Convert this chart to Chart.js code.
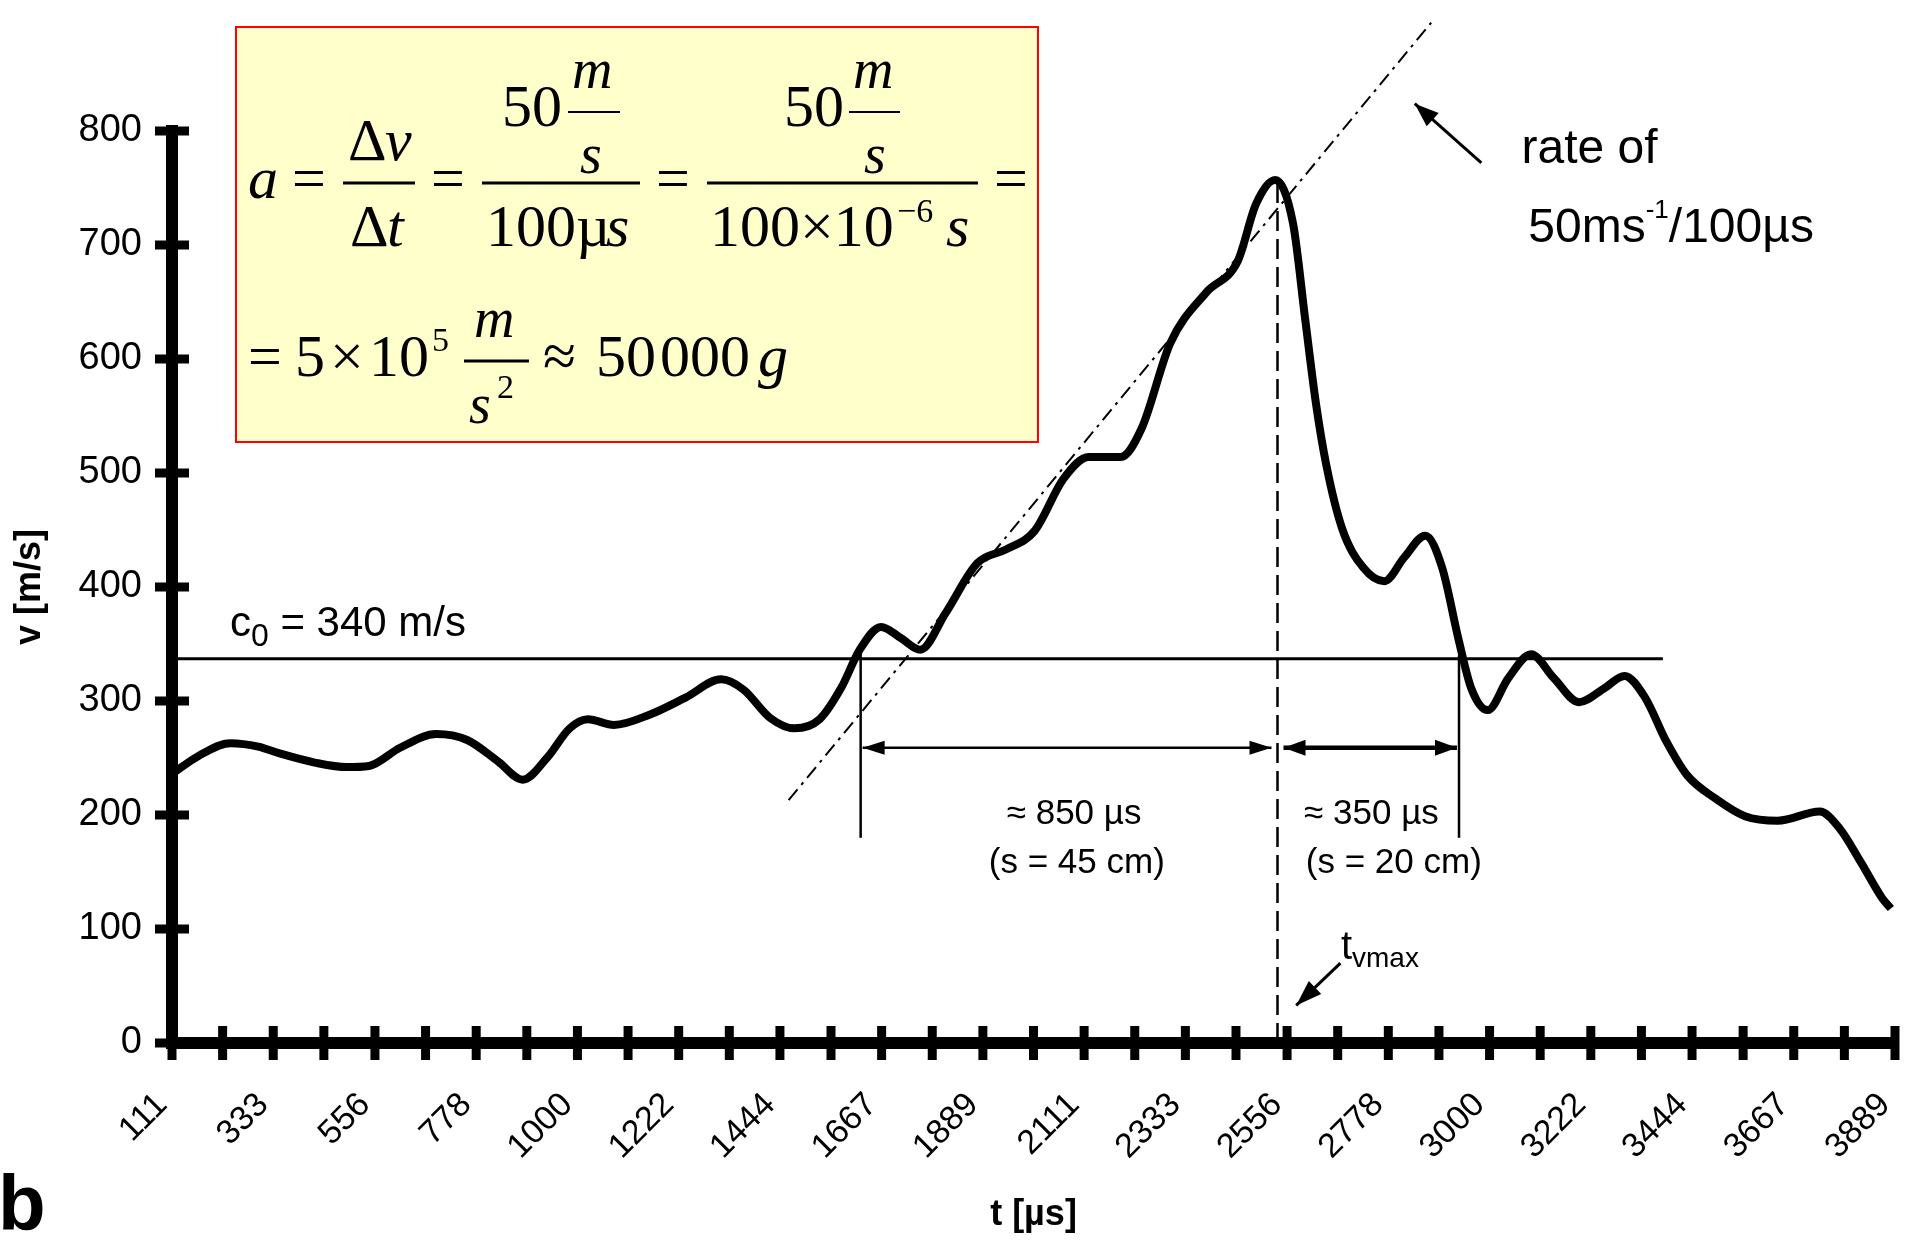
<!DOCTYPE html>
<html>
<head>
<meta charset="utf-8">
<script src="https://cdn.jsdelivr.net/npm/chart.js@4.4.1/dist/chart.umd.min.js"></script>
<style>
html, body { margin: 0; padding: 0; background: #fff; }
canvas { display: block; }
</style>
</head>
<body>
<canvas id="myChart" width="1909" height="1240"></canvas>
<script>
// time axis [µs]: a tick every 111 µs, a label on every second one
var tickValues = [111, 222, 333, 444, 556, 667, 778, 889, 1000, 1111, 1222, 1333, 1444, 1556, 1667, 1778, 1889,
    2000, 2111, 2222, 2333, 2444, 2556, 2667, 2778, 2889, 3000, 3111, 3222, 3333, 3444, 3556, 3667, 3778, 3889];
var speedTicks = [0, 100, 200, 300, 400, 500, 600, 700, 800];

// measured velocity curve
var timeUs = [111, 170, 239, 300, 347, 424, 494, 543, 611, 690, 757, 826, 880, 933, 983, 1023, 1080, 1158,
    1237, 1315, 1364, 1423, 1476, 1531, 1579, 1619, 1666, 1710, 1752, 1807, 1877, 1940, 2002, 2066, 2121,
    2191, 2237, 2300, 2378, 2448, 2488, 2530, 2569, 2596, 2619, 2642, 2677, 2723, 2769, 2813, 2859, 2896,
    2932, 2960, 2996, 3041, 3091, 3141, 3196, 3251, 3296, 3341, 3387, 3433, 3497, 3560, 3632, 3724, 3768,
    3815, 3861, 3880];
var speed = [236, 252, 263, 260, 254, 246, 242, 243, 259, 271, 266, 247, 231, 250, 276, 284, 279, 288,
    303, 319, 310, 285, 276, 284, 312, 345, 365, 355, 345, 377, 421, 433, 449, 495, 514,
    514, 539, 614, 658, 686, 736, 757, 719, 634, 562, 507, 451, 417, 405, 426, 445, 417,
    354, 311, 292, 320, 341, 320, 299, 311, 322, 303, 265, 235, 214, 199, 195, 203, 188,
    158, 127, 118];

// speed of sound line
var soundT = [111, 3380];
var soundV = [337, 337];

// tangent, rate of 50 m/s per 100 µs
var tangentT = [1463, 2872];
var tangentV = [213, 895];

// markers: start of rise, t_vmax, back to c0
var markerT = [1621, 2535, 2933];
var markerTop = [345, 757, 340];
var markerBottom = [180, 0, 180];
var arrowLevel = 259;

function pts(xs, ys) {
    return xs.map(function (x, i) { return { x: x, y: ys[i] }; });
}

function lineSet(data, width, dash) {
    return {
        data: data,
        borderColor: '#000',
        borderWidth: width,
        borderDash: dash || [],
        pointRadius: 0,
        tension: 0,
        fill: false,
        clip: false
    };
}

var SANS = '"Liberation Sans", Arial, sans-serif';
var SERIF = '"Liberation Serif", "Times New Roman", serif';

// text runs: [text, font, dy]
function drawRuns(c, runs, x, y, align) {
    var total = 0;
    runs.forEach(function (r) { c.font = r[1]; total += c.measureText(r[0]).width; });
    if (align === 'center') x -= total / 2;
    c.textAlign = 'left';
    c.textBaseline = 'alphabetic';
    runs.forEach(function (r) {
        c.font = r[1];
        c.fillText(r[0], x, y + (r[2] || 0));
        x += c.measureText(r[0]).width;
    });
}

function arrowHead(c, x, y, ang, len, half) {
    var bx = x - len * Math.cos(ang), by = y - len * Math.sin(ang);
    c.beginPath();
    c.moveTo(x, y);
    c.lineTo(bx + half * Math.sin(ang), by - half * Math.cos(ang));
    c.lineTo(bx - half * Math.sin(ang), by + half * Math.cos(ang));
    c.closePath();
    c.fill();
}

function arrow(c, x1, y1, x2, y2, width, len, half, both) {
    var ang = Math.atan2(y2 - y1, x2 - x1);
    c.lineWidth = width;
    c.beginPath();
    c.moveTo(x1, y1);
    c.lineTo(x2, y2);
    c.stroke();
    arrowHead(c, x2, y2, ang, len, half);
    if (both) arrowHead(c, x1, y1, ang + Math.PI, len, half);
}

var annotate = {
    id: 'annotate',
    afterDraw: function (chart) {
        var c = chart.ctx, xs = chart.scales.x, ys = chart.scales.y;
        var X = function (t) { return xs.getPixelForValue(t); };
        var Y = function (v) { return ys.getPixelForValue(v); };
        c.save();
        c.fillStyle = '#000';
        c.strokeStyle = '#000';

        // tick marks crossing the axes
        c.lineWidth = 9;
        tickValues.forEach(function (t) {
            c.beginPath();
            c.moveTo(X(t), Y(0) - 17);
            c.lineTo(X(t), Y(0) + 17);
            c.stroke();
        });
        speedTicks.forEach(function (v) {
            c.beginPath();
            c.moveTo(xs.left - 17, Y(v));
            c.lineTo(xs.left + 17, Y(v));
            c.stroke();
        });

        // time spans
        arrow(c, X(markerT[0]) + 2, Y(arrowLevel), X(markerT[1]) - 6, Y(arrowLevel), 2.5, 22, 7, true);
        arrow(c, X(markerT[1]) + 6, Y(arrowLevel), X(markerT[2]) - 2, Y(arrowLevel), 4.5, 22, 8, true);
        // pointers
        arrow(c, X(2673), Y(70), X(2576), Y(33), 3, 26, 9, false);
        arrow(c, X(2982), Y(772), X(2836), Y(824), 3, 24, 9, false);

        // labels
        var f35 = '35px ' + SANS;
        drawRuns(c, [['\u2248 850 \u00b5s', f35]], X(2089), Y(192), 'center');
        drawRuns(c, [['(s = 45 cm)', f35]], X(2095), Y(149), 'center');
        drawRuns(c, [['\u2248 350 \u00b5s', f35]], X(2741), Y(192), 'center');
        drawRuns(c, [['(s = 20 cm)', f35]], X(2790), Y(149), 'center');
        drawRuns(c, [['t', '40px ' + SANS], ['vmax', '28px ' + SANS, 8]], X(2674), Y(74));
        drawRuns(c, [['c', '42px ' + SANS], ['0', '32px ' + SANS, 10], [' = 340 m/s', '42px ' + SANS]], X(238), Y(357));
        drawRuns(c, [['rate of', '48px ' + SANS]], X(3070), Y(772));
        drawRuns(c, [['50ms', '48px ' + SANS], ['-1', '26px ' + SANS, -24], ['/100\u00b5s', '48px ' + SANS]], X(3085), Y(703));

        // panel letter
        c.font = 'bold 78px ' + SANS;
        c.textAlign = 'left';
        c.fillText('b', -2, 1230);

        // formula box
        c.fillStyle = '#FFFFCC';
        c.fillRect(236, 27, 802, 415);
        c.strokeStyle = '#FF0000';
        c.lineWidth = 2;
        c.strokeRect(236, 27, 802, 415);
        c.fillStyle = '#000';
        c.strokeStyle = '#000';

        var R = '60px ' + SERIF, I = 'italic 60px ' + SERIF, M = 'italic 56px ' + SERIF, S = '34px ' + SERIF;
        var items = [
            ['a', 248, 198, I], ['=', 292, 198, R],
            ['\u0394', 348, 160, R], ['v', 385, 160, I],
            ['\u0394', 350, 246, R], ['t', 387, 246, I],
            ['=', 431, 198, R],
            ['50', 502, 126, R], ['m', 572, 88, M], ['s', 580, 173, M],
            ['100\u00b5', 486, 246, R], ['s', 606, 246, I],
            ['=', 656, 198, R],
            ['50', 784, 126, R], ['m', 853, 88, M], ['s', 864, 173, M],
            ['100\u00d710', 710, 246, R], ['\u22126', 897, 222, S], ['s', 946, 246, I],
            ['=', 994, 198, R],
            ['=', 248, 376, R], ['5', 295, 376, R], ['\u00d7', 330, 376, R], ['10', 369, 376, R],
            ['5', 432, 351, S],
            ['m', 474, 337, M], ['s', 469, 423, M], ['2', 497, 398, S],
            ['\u2248', 543, 376, R],
            ['50', 596, 376, R], ['000', 660, 376, R], ['g', 758, 376, I]
        ];
        c.textAlign = 'left';
        c.textBaseline = 'alphabetic';
        items.forEach(function (it) {
            c.font = it[3];
            c.fillText(it[0], it[1], it[2]);
        });
        var bars = [[343, 415, 183, 3], [482, 640, 183, 3], [568, 620, 112, 2], [707, 978, 183, 3],
            [849, 900, 112, 2], [464, 529, 361, 3]];
        bars.forEach(function (b) {
            c.fillRect(b[0], b[2] - b[3] / 2, b[1] - b[0], b[3]);
        });
        c.restore();
    }
};

Chart.defaults.font.family = SANS;
Chart.defaults.color = '#000';

var ctx = document.getElementById('myChart').getContext('2d');

var myChart = new Chart(ctx, {
    type: 'line',
    data: {
        datasets: [
            Object.assign(lineSet(pts(timeUs, speed), 8), { cubicInterpolationMode: 'monotone' }),
            lineSet(pts(soundT, soundV), 3),
            lineSet(pts(tangentT, tangentV), 2, [14, 6, 3, 6]),
            lineSet(pts([markerT[0], markerT[0]], [markerBottom[0], markerTop[0]]), 2.5),
            lineSet(pts([markerT[1], markerT[1]], [markerBottom[1], markerTop[1]]), 2.5, [20, 8]),
            lineSet(pts([markerT[2], markerT[2]], [markerBottom[2], markerTop[2]]), 2.5)
        ]
    },
    options: {
        responsive: false,
        animation: false,
        events: [],
        layout: { padding: { left: 0, right: 14, top: 131, bottom: 0 } },
        plugins: {
            legend: { display: false },
            tooltip: { enabled: false }
        },
        scales: {
            x: {
                type: 'linear',
                min: 111,
                max: 3889,
                afterBuildTicks: function (scale) {
                    scale.ticks = tickValues.map(function (v) { return { value: v }; });
                },
                afterFit: function (scale) {
                    scale.height = 197;
                    scale.paddingLeft = 0;
                    scale.paddingRight = 0;
                },
                grid: { drawOnChartArea: false, drawTicks: false },
                border: { color: '#000', width: 12 },
                ticks: {
                    autoSkip: false,
                    minRotation: 45,
                    maxRotation: 45,
                    padding: 42,
                    labelOffset: -10,
                    font: { size: 34 },
                    callback: function (value, index) {
                        return index % 2 === 0 ? String(tickValues[index]) : '';
                    }
                },
                title: { display: true, text: 't [\u00b5s]', font: { size: 36, weight: 'bold' }, padding: { top: 0, bottom: 3 } }
            },
            y: {
                min: 0,
                max: 800,
                afterBuildTicks: function (scale) {
                    scale.ticks = speedTicks.map(function (v) { return { value: v }; });
                },
                afterFit: function (scale) {
                    scale.width = 172;
                    scale.paddingTop = 0;
                    scale.paddingBottom = 0;
                },
                grid: { drawOnChartArea: false, drawTicks: false },
                border: { color: '#000', width: 12 },
                ticks: { padding: 30, font: { size: 38 } },
                title: { display: true, text: 'v [m/s]', font: { size: 36, weight: 'bold' }, padding: { top: 8, bottom: 0 } }
            }
        }
    },
    plugins: [annotate]
});
</script>
</body>
</html>
